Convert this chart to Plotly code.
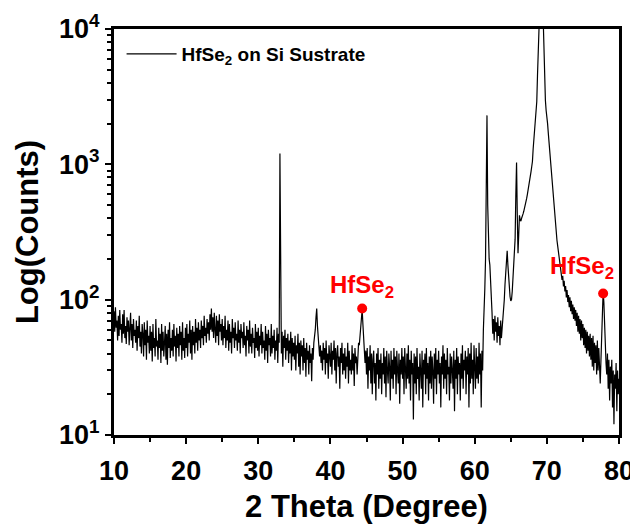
import numpy as np
import plotly.graph_objects as go

# 2 theta sampling grid (0.1 deg steps, 10..80)
two_theta = np.round(np.arange(10.0, 80.0001, 0.1), 1)

# counts, one row = 1 degree (x.0 .. x.9)
counts = [
    82, 58, 88, 62, 70, 50, 76, 54, 84, 60,            # 10
    66, 48, 78, 56, 84, 52, 64, 47, 74, 58,            # 11
    70, 46, 62, 80, 50, 66, 44, 72, 54, 60,            # 12
    48, 70, 42, 64, 52, 76, 45, 58, 40, 66,            # 13
    56, 38, 68, 46, 60, 36, 70, 48, 54, 40,            # 14
    64, 42, 58, 35, 66, 44, 52, 38, 72, 45,            # 15
    50, 36, 62, 44, 56, 34, 66, 42, 58, 38,            # 16
    48, 64, 36, 56, 33, 60, 44, 68, 37, 52,            # 17
    42, 60, 38, 66, 45, 54, 35, 62, 44, 56,            # 18
    38, 64, 46, 58, 36, 68, 42, 52, 37, 62,            # 19
    44, 66, 38, 56, 48, 70, 40, 60, 36, 64,            # 20
    46, 58, 40, 72, 48, 62, 42, 68, 50, 60,            # 21
    44, 70, 52, 64, 46, 76, 54, 62, 48, 72,            # 22
    56, 68, 50, 78, 60, 86, 58, 74, 52, 80,            # 23
    60, 48, 76, 54, 70, 46, 78, 58, 66, 50,            # 24
    72, 46, 64, 52, 76, 44, 60, 50, 70, 42,            # 25
    66, 48, 58, 40, 72, 52, 62, 44, 68, 50,            # 26
    56, 42, 70, 48, 60, 40, 66, 52, 58, 44,            # 27
    68, 46, 54, 38, 64, 50, 60, 40, 70, 45,            # 28
    56, 40, 62, 48, 52, 37, 66, 44, 58, 42,            # 29
    62, 38, 54, 46, 66, 40, 58, 44, 50, 36,            # 30
    64, 42, 56, 34, 60, 46, 52, 38, 66, 40,            # 31
    54, 44, 60, 36, 50, 42, 62, 34, 56, 48,            # 32
    1200, 140, 40, 58, 32, 54, 44, 60, 36, 52,         # 33
    42, 56, 34, 50, 40, 58, 30, 52, 38, 48,            # 34
    36, 54, 30, 46, 40, 56, 32, 48, 28, 50,            # 35
    38, 46, 30, 52, 34, 44, 27, 48, 36, 42,            # 36
    28, 46, 34, 40, 25, 44, 36, 48, 52, 60,            # 37
    74, 86, 64, 50, 44, 38, 46, 34, 42, 30,            # 38
    48, 36, 44, 28, 50, 34, 40, 26, 46, 38,            # 39
    32, 48, 28, 42, 36, 50, 30, 44, 24, 40,            # 40
    46, 32, 38, 22, 44, 34, 48, 28, 40, 30,            # 41
    44, 26, 38, 32, 48, 24, 42, 30, 36, 28,            # 42
    46, 30, 40, 23, 44, 34, 38, 28, 42, 48,            # 43
    46, 52, 62, 74, 85, 66, 48, 40, 34, 42,            # 44
    28, 44, 22, 38, 30, 46, 24, 40, 20, 36,            # 45
    42, 24, 34, 18, 40, 28, 44, 22, 36, 26,            # 46
    40, 20, 34, 28, 44, 24, 38, 19, 42, 30,            # 47
    24, 40, 32, 18, 42, 26, 36, 22, 44, 28,            # 48
    38, 20, 42, 30, 24, 40, 17, 36, 28, 44,            # 49
    26, 38, 20, 44, 30, 22, 40, 26, 46, 24,            # 50
    36, 18, 42, 28, 34, 13, 40, 24, 38, 20,            # 51
    44, 26, 32, 18, 40, 30, 22, 42, 16, 36,            # 52
    28, 40, 20, 44, 26, 34, 18, 38, 24, 42,            # 53
    22, 38, 30, 17, 40, 26, 44, 20, 36, 28,            # 54
    42, 24, 34, 16, 38, 28, 46, 22, 40, 26,            # 55
    36, 20, 44, 28, 32, 18, 40, 24, 38, 30,            # 56
    22, 42, 15, 36, 26, 44, 20, 38, 28, 34,            # 57
    18, 40, 26, 46, 22, 36, 30, 42, 20, 38,            # 58
    28, 44, 16, 40, 24, 48, 26, 36, 20, 46,            # 59
    30, 22, 44, 26, 38, 24, 48, 28, 40, 16,            # 60
    42, 30, 60, 80, 120, 200, 700, 2300, 500, 220,     # 61
    200, 180, 120, 95, 80, 56, 72, 50, 76, 58,         # 62
    68, 48, 74, 54, 64, 46, 70, 52, 60, 66,            # 63
    80, 100, 130, 170, 200, 230, 180, 140, 115, 105,   # 64
    98, 100, 115, 140, 170, 210, 280, 600, 1030, 420,  # 65
    220, 300, 420, 390, 380, 400, 410, 430, 450, 470,  # 66
    500, 530, 560, 600, 640, 690, 740, 800, 880, 960,  # 67
    1050, 1300, 1550, 1850, 2200, 2500, 2900, 4500, 9000, 18000,      # 68
    30000, 30000, 30000, 28000, 18000, 10000, 5500, 3800, 2960, 2500,  # 69
    2300, 2000, 1700, 1450, 1200, 1010, 860, 730, 620, 530,  # 70
    460, 400, 350, 310, 275, 250, 225, 205, 185, 170,  # 71
    160, 140, 150, 125, 138, 115, 126, 104, 118, 96,   # 72
    108, 88, 104, 82, 98, 78, 92, 72, 88, 70,          # 73
    84, 64, 80, 58, 76, 56, 72, 50, 70, 52,            # 74
    66, 46, 62, 44, 60, 40, 58, 42, 54, 38,            # 75
    56, 36, 52, 32, 54, 30, 48, 34, 46, 28,            # 76
    50, 30, 44, 26, 24, 36, 60, 90, 115, 96,           # 77
    62, 40, 34, 28, 40, 22, 36, 18, 32, 24,            # 78
    36, 16, 30, 12, 28, 22, 34, 15, 30, 20,            # 79
    26,                                                # 80
]

peak_x = [44.4, 77.8]
peak_y = [86, 111]
peak_label = "HfSe<sub>2</sub>"

y_tickvals = [10, 100, 1000, 10000]
y_ticktext = ["10<sup>1</sup>", "10<sup>2</sup>", "10<sup>3</sup>", "10<sup>4</sup>"]

font_family = "Arial, Liberation Sans, sans-serif"

fig = go.Figure()
fig.add_trace(go.Scatter(x=two_theta, y=counts, mode="lines",
                         line=dict(color="black", width=1.2),
                         name="HfSe<sub>2</sub> on Si Sustrate"))
fig.add_trace(go.Scatter(x=peak_x, y=peak_y, mode="markers",
                         marker=dict(color="red", size=10),
                         showlegend=False))

# labels over the two HfSe2 reflections
shifts = [(0, 22), (-21, 26)]
for px_, py_, (dx, dy) in zip(peak_x, peak_y, shifts):
    fig.add_annotation(x=px_, y=np.log10(py_), text=peak_label,
                       showarrow=False, xshift=dx, yshift=dy,
                       font=dict(family=font_family, size=24, color="red", weight="bold"))

axis_common = dict(showline=True, linewidth=3, linecolor="black", mirror=True,
                   ticks="outside", ticklen=6, tickwidth=2, tickcolor="black",
                   showgrid=False, zeroline=False, automargin=False,
                   tickfont=dict(family=font_family, size=27, color="black", weight="bold"),
                   title_font=dict(family=font_family, size=31, color="black", weight="bold"))

fig.update_xaxes(range=[10, 80], dtick=10, title_text="2 Theta (Degree)", title_standoff=10,
                 ticklabelstandoff=4,
                 minor=dict(ticks="outside", ticklen=4, tickwidth=2, dtick=5, tickcolor="black"),
                 **axis_common)
fig.update_yaxes(type="log", range=[1, 4], tickvals=y_tickvals, ticktext=y_ticktext,
                 title_text="Log(Counts)", title_standoff=12,
                 minor=dict(ticks="outside", ticklen=4, tickwidth=2, dtick="D1", tickcolor="black"),
                 **axis_common)

# page body adds an 8px offset, so the figure is 8px smaller than the window
fig.update_layout(width=630, height=517,
                  margin=dict(l=106, r=19, t=21, b=90),
                  paper_bgcolor="white", plot_bgcolor="white",
                  showlegend=True,
                  legend=dict(x=0.015, y=0.985, xanchor="left", yanchor="top",
                              itemwidth=50,
                              bgcolor="rgba(0,0,0,0)",
                              font=dict(family=font_family, size=19, color="black", weight="bold")))

fig.write_html("out.html")
